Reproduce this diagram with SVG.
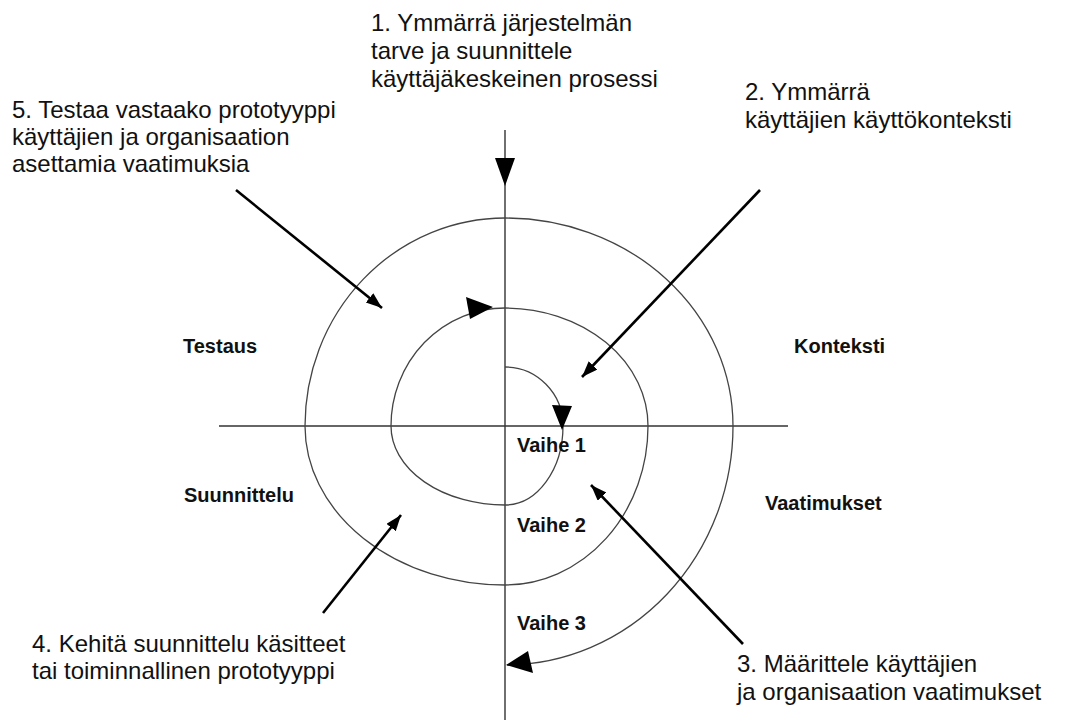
<svg xmlns="http://www.w3.org/2000/svg" width="1069" height="720" viewBox="0 0 1069 720">
  <style>
    .note { font-family: "Liberation Sans", Arial, sans-serif; font-size: 24px; fill: #111; }
    .phase { font-family: "Liberation Sans", Arial, sans-serif; font-size: 20px; font-weight: bold; fill: #111; }
    .axis { stroke: #333; stroke-width: 1.4; fill: none; }
    .spiral { stroke: #444; stroke-width: 1.3; fill: none; }
    .pointer { stroke: #000; stroke-width: 2.6; fill: none; marker-end: url(#head); }
    .tri { fill: #000; }
  </style>
  <defs>
    <marker id="head" markerUnits="userSpaceOnUse" markerWidth="18" markerHeight="14" refX="16" refY="6" orient="auto">
      <path d="M0,0 L16,6 L0,12 Z" fill="#000"/>
    </marker>
  </defs>
  <rect width="1069" height="720" fill="#fff"/>

  <!-- quadrant axes -->
  <g id="axes">
    <line class="axis" x1="505" y1="130" x2="505" y2="720"/>
    <line class="axis" x1="219" y1="426" x2="788" y2="426"/>
    <polygon class="tri" points="495,158 515,158 505,186"/>
  </g>

  <!-- clockwise spiral through the phases -->
  <g id="spiral">
    <path class="spiral" d="M505,367 A58,59 0 0 1 563,426 A58,79 0 0 1 505,505 A114,79 0 0 1 391,426 A114,118 0 0 1 505,308 A143,118 0 0 1 648,426 A143,159 0 0 1 505,585 A200,159 0 0 1 305,426 A200,208 0 0 1 505,218 A228,208 0 0 1 733,426 A228,239 0 0 1 507,665"/>
    <polygon class="tri" points="552,405 572,406 562,430"/>
    <polygon class="tri" points="466,297 470,319 493,307"/>
    <polygon class="tri" points="528,651 533,673 506,665"/>
  </g>

  <!-- pointers from the step notes into the quadrants -->
  <g id="connectors">
    <line class="pointer" x1="236" y1="190" x2="382" y2="308"/>
    <line class="pointer" x1="760" y1="190" x2="582" y2="377"/>
    <line class="pointer" x1="743" y1="644" x2="591" y2="485"/>
    <line class="pointer" x1="323" y1="613" x2="401" y2="515"/>
  </g>

  <g id="step1">
    <text class="note" x="371" y="31">1. Ymmärrä järjestelmän</text>
    <text class="note" x="371" y="59">tarve ja suunnittele</text>
    <text class="note" x="371" y="87">käyttäjäkeskeinen prosessi</text>
  </g>
  <g id="step2">
    <text class="note" x="745" y="100">2. Ymmärrä</text>
    <text class="note" x="745" y="128">käyttäjien käyttökonteksti</text>
  </g>
  <g id="step3">
    <text class="note" x="737" y="672">3. Määrittele käyttäjien</text>
    <text class="note" x="737" y="700">ja organisaation vaatimukset</text>
  </g>
  <g id="step4">
    <text class="note" x="32" y="652">4. Kehitä suunnittelu käsitteet</text>
    <text class="note" x="32" y="679">tai toiminnallinen prototyyppi</text>
  </g>
  <g id="step5">
    <text class="note" x="12" y="118">5. Testaa vastaako prototyyppi</text>
    <text class="note" x="12" y="145">käyttäjien ja organisaation</text>
    <text class="note" x="12" y="172">asettamia vaatimuksia</text>
  </g>

  <g id="quadrant-labels">
    <text class="phase" x="183" y="353">Testaus</text>
    <text class="phase" x="794" y="353">Konteksti</text>
    <text class="phase" x="184" y="502">Suunnittelu</text>
    <text class="phase" x="765" y="510">Vaatimukset</text>
  </g>
  <g id="phase-labels">
    <text class="phase" x="517" y="452">Vaihe 1</text>
    <text class="phase" x="517" y="532">Vaihe 2</text>
    <text class="phase" x="517" y="630">Vaihe 3</text>
  </g>
</svg>
